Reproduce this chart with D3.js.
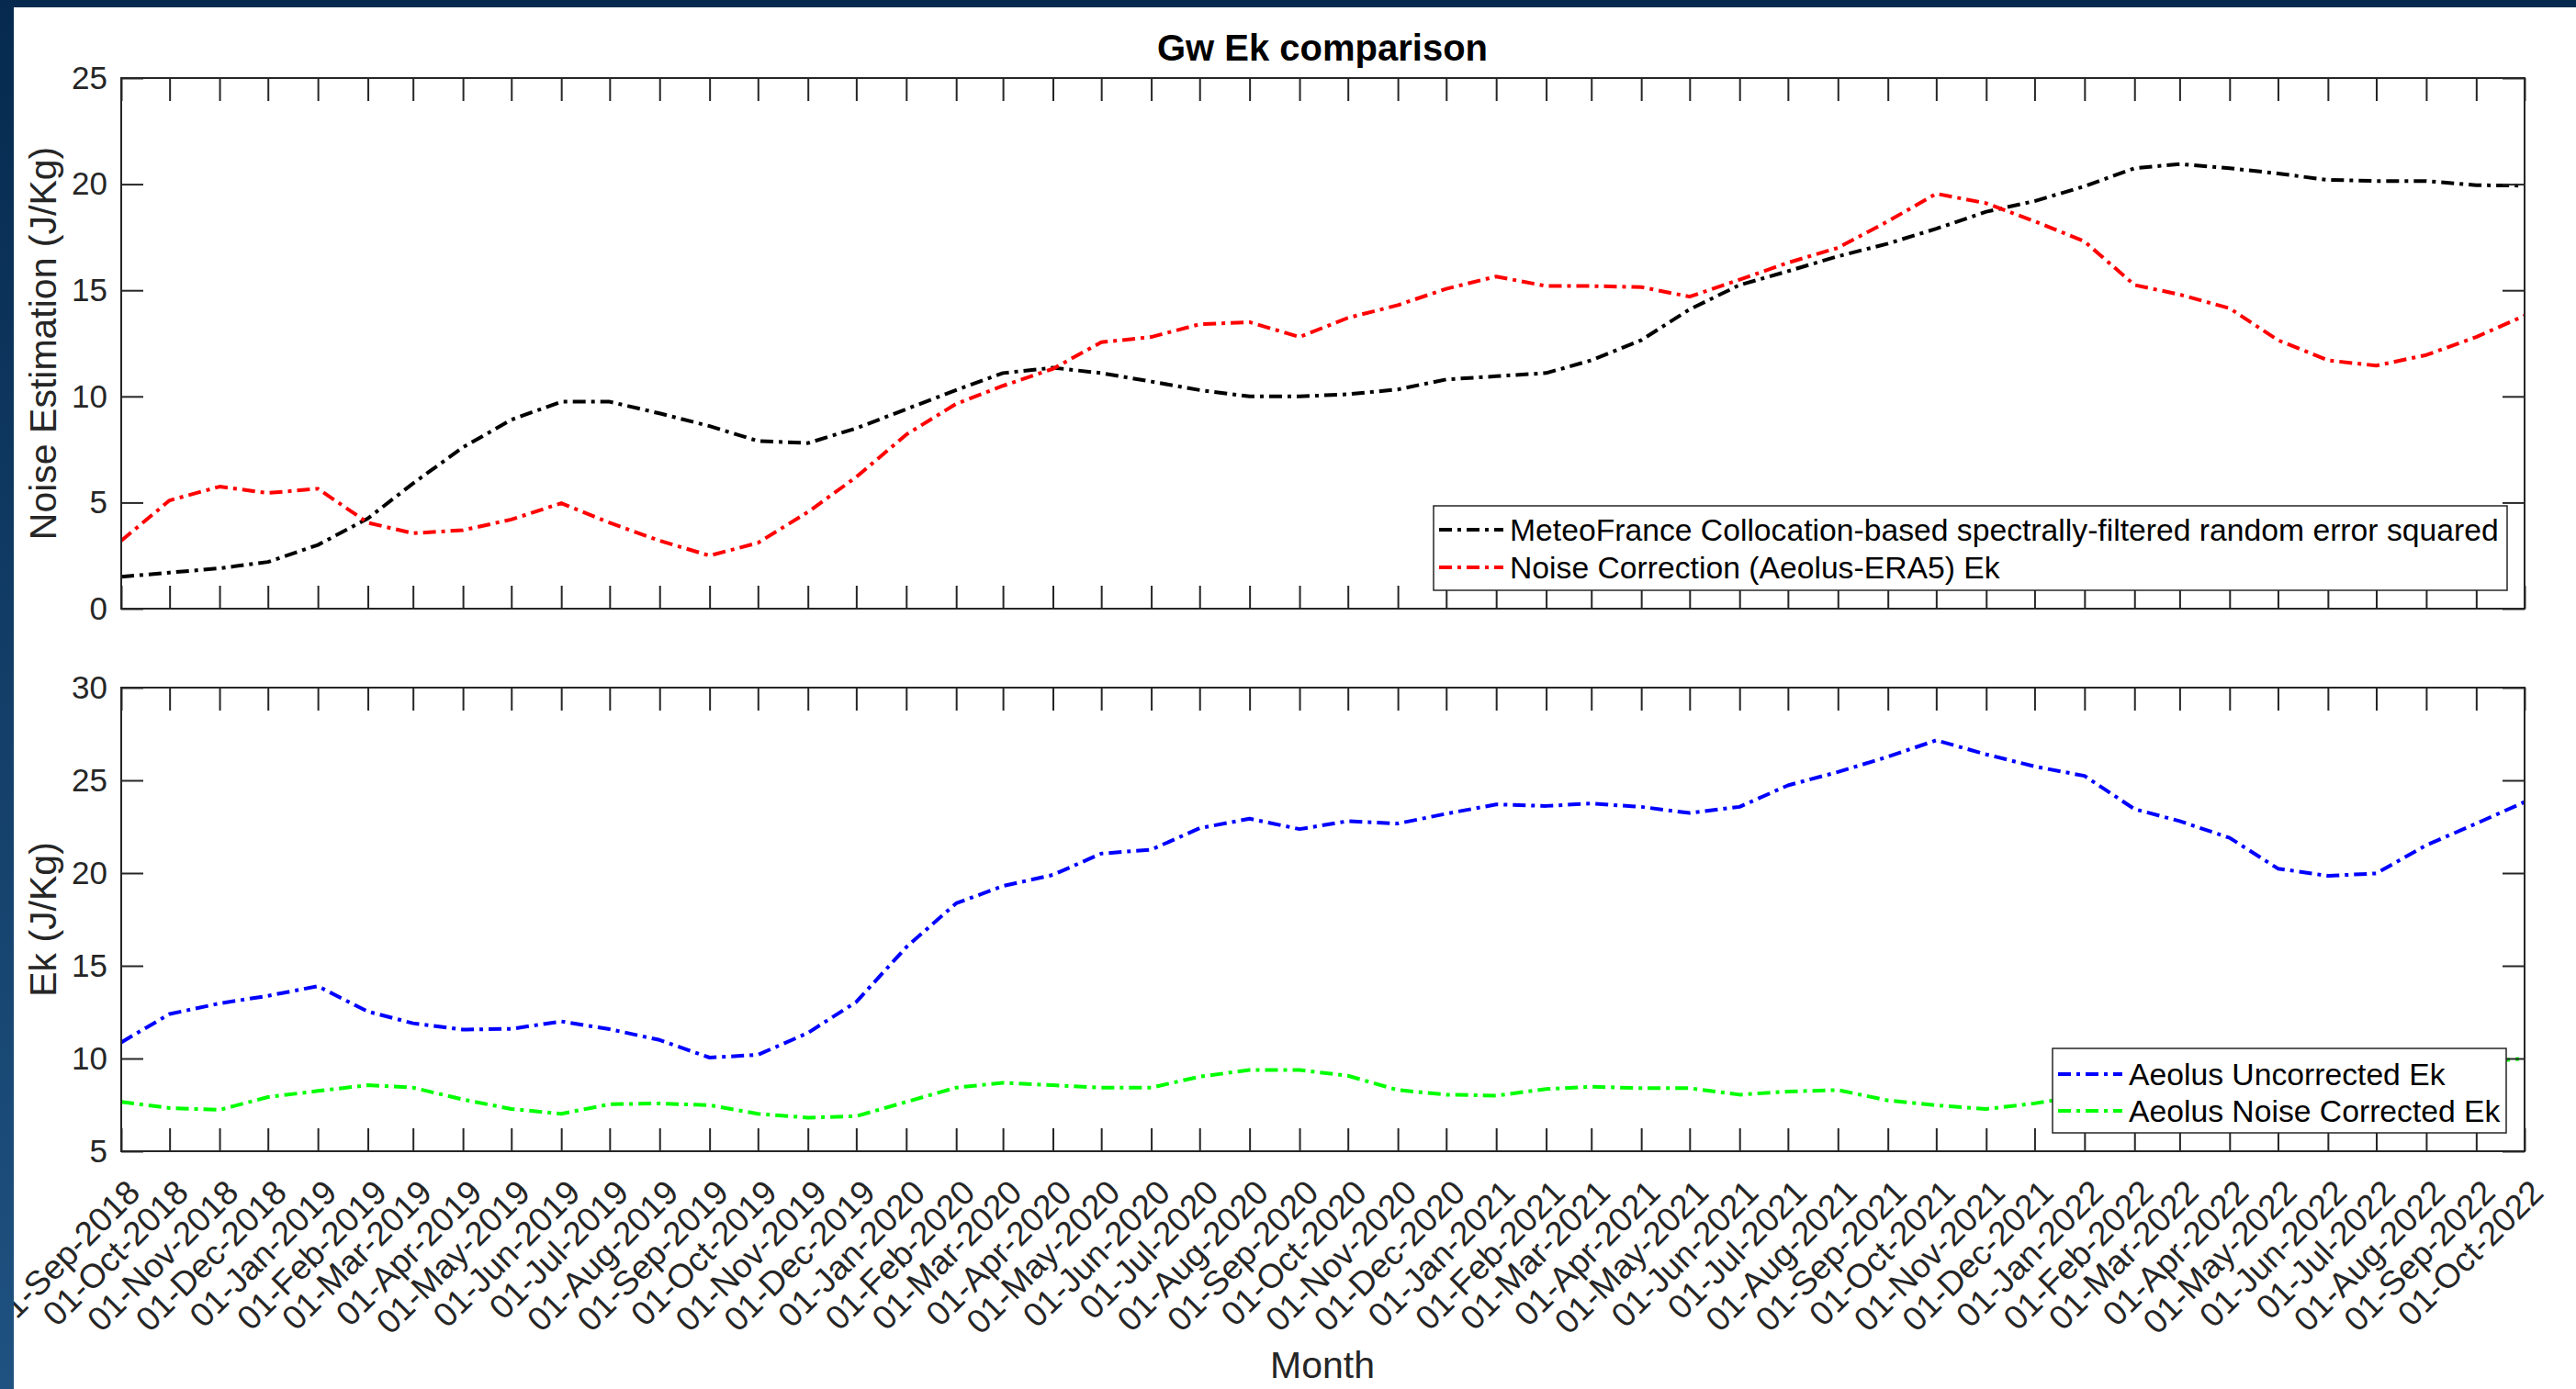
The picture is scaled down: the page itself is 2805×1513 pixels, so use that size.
<!DOCTYPE html>
<html><head><meta charset="utf-8">
<script src="https://cdn.jsdelivr.net/npm/d3@7"></script>
<style>
html,body{margin:0;padding:0;background:#fff;}
svg{display:block;}
text{font-family:"Liberation Sans",Arial,Helvetica,sans-serif;}
</style></head><body>
<svg id="chart" width="2805" height="1513"></svg>
<script>
const months = ["2018-09","2018-10","2018-11","2018-12","2019-01","2019-02","2019-03","2019-04","2019-05","2019-06",
"2019-07","2019-08","2019-09","2019-10","2019-11","2019-12","2020-01","2020-02","2020-03","2020-04",
"2020-05","2020-06","2020-07","2020-08","2020-09","2020-10","2020-11","2020-12","2021-01","2021-02",
"2021-03","2021-04","2021-05","2021-06","2021-07","2021-08","2021-09","2021-10","2021-11","2021-12",
"2022-01","2022-02","2022-03","2022-04","2022-05","2022-06","2022-07","2022-08","2022-09","2022-10"];
const meteoFrance = [1.5,1.7,1.9,2.2,3.0,4.25,5.9,7.6,8.9,9.75,9.75,9.2,8.6,7.9,7.8,8.5,9.4,10.3,11.1,11.35,11.1,10.7,10.3,10.0,10.0,10.1,10.33,10.8,10.95,11.1,11.7,12.65,14.1,15.25,15.9,16.6,17.2,17.9,18.7,19.2,19.9,20.75,20.95,20.75,20.5,20.2,20.15,20.15,19.95,19.93];
const noiseCorrection = [3.2,5.1,5.75,5.45,5.65,4.05,3.55,3.7,4.2,4.97,4.05,3.2,2.5,3.1,4.55,6.2,8.2,9.65,10.5,11.3,12.55,12.8,13.4,13.5,12.8,13.7,14.3,15.07,15.65,15.2,15.2,15.15,14.7,15.5,16.3,17.0,18.25,19.55,19.1,18.25,17.3,15.25,14.8,14.15,12.65,11.7,11.45,11.95,12.8,13.8];
const aeolusUncorrected = [10.87,12.4,12.97,13.38,13.9,12.53,11.9,11.56,11.6,12.0,11.58,11.0,10.05,10.2,11.38,13.05,16.0,18.37,19.3,19.9,21.05,21.26,22.42,22.93,22.37,22.8,22.67,23.2,23.7,23.62,23.75,23.57,23.24,23.57,24.73,25.45,26.27,27.16,26.4,25.75,25.24,23.45,22.8,21.9,20.24,19.85,19.98,21.5,22.67,23.83];
const aeolusCorrected = [7.66,7.33,7.23,7.92,8.25,8.56,8.43,7.79,7.28,7.02,7.53,7.58,7.48,7.02,6.81,6.89,7.66,8.43,8.69,8.56,8.43,8.43,9.02,9.38,9.38,9.07,8.3,8.05,8.0,8.35,8.48,8.4,8.4,8.05,8.22,8.3,7.74,7.48,7.28,7.58,8.0,8.4,8.6,8.8,8.9,9.0,9.2,9.5,9.8,10.0];
const topYTicks = [0,5,10,15,20,25];
const bottomYTicks = [5,10,15,20,25,30];
const topSeries = [
  {name:"MeteoFrance Collocation-based spectrally-filtered random error squared", values: meteoFrance, color:"#000000"},
  {name:"Noise Correction (Aeolus-ERA5) Ek", values: noiseCorrection, color:"#ff0000"}
];
const bottomSeries = [
  {name:"Aeolus Uncorrected Ek", values: aeolusUncorrected, color:"#0000ff"},
  {name:"Aeolus Noise Corrected Ek", values: aeolusCorrected, color:"#00ff00"}
];

const svg = d3.select("#chart");
const W = 2805, H = 1513;
const AX = "#262626";
const DASH = "14,6,4,6";
const LW = 4;
const parse = d3.timeParse("%Y-%m");
const dates = months.map(parse);

svg.append("rect").attr("x",0).attr("y",0).attr("width",W).attr("height",H).attr("fill","#fff");

const L = 132, R = 2749;
const x = d3.scaleTime().domain([dates[0], dates[dates.length-1]]).range([L, R]);

function panel(top, bottom, domain, yTicks, series, showXLabels, yLabel, legend) {
  const y = d3.scaleLinear().domain(domain).range([bottom, top]);
  const g = svg.append("g");

  const line = d3.line().x((d,i)=>x(dates[i])).y(d=>y(d));
  series.forEach(s => {
    g.append("path").datum(s.values).attr("d", line).attr("fill","none")
      .attr("stroke", s.color).attr("stroke-width",LW).attr("stroke-dasharray",DASH)
      .attr("stroke-linejoin","round");
  });

  const styleAxis = (ag, fs) => {
    ag.attr("font-size",fs).attr("font-family","'Liberation Sans',Arial,sans-serif").attr("color",AX);
    ag.selectAll("line").attr("stroke-width",2);
    ag.select(".domain").remove();
  };
  const xb = g.append("g").attr("transform",`translate(0,${bottom})`)
    .call(d3.axisBottom(x).tickValues(dates).tickSize(-25).tickSizeOuter(0)
      .tickFormat(showXLabels ? d3.timeFormat("%d-%b-%Y") : ""));
  styleAxis(xb, 37);
  if (showXLabels) {
    xb.selectAll("text").attr("x",0).attr("y",0).attr("dy","0.35em")
      .attr("text-anchor","end").attr("transform","translate(13,38) rotate(-45)").attr("fill",AX);
  }
  const xt = g.append("g").attr("transform",`translate(0,${top})`)
    .call(d3.axisTop(x).tickValues(dates).tickSize(-25).tickSizeOuter(0).tickFormat(""));
  styleAxis(xt, 35);
  const yl = g.append("g").attr("transform",`translate(${L},0)`)
    .call(d3.axisLeft(y).tickValues(yTicks).tickSize(-24).tickSizeOuter(0).tickPadding(15));
  styleAxis(yl, 35);
  yl.selectAll("text").attr("fill",AX);
  const yr = g.append("g").attr("transform",`translate(${R},0)`)
    .call(d3.axisRight(y).tickValues(yTicks).tickSize(-24).tickSizeOuter(0).tickFormat(""));
  styleAxis(yr, 35);

  g.append("rect").attr("x",L).attr("y",top).attr("width",R-L).attr("height",bottom-top)
    .attr("fill","none").attr("stroke",AX).attr("stroke-width",2);

  g.append("text").attr("transform",`translate(61,${(top+bottom)/2}) rotate(-90)`)
    .attr("text-anchor","middle").attr("font-size",41).attr("fill",AX).text(yLabel);

  const lg = g.append("g");
  lg.append("rect").attr("x",legend.x).attr("y",legend.y).attr("width",legend.w).attr("height",legend.h)
    .attr("fill","#fff").attr("stroke",AX).attr("stroke-width",1.5);
  series.forEach((s,i) => {
    const cy = legend.rows[i];
    lg.append("line").attr("x1",legend.x+6).attr("x2",legend.x+76).attr("y1",cy).attr("y2",cy)
      .attr("stroke",s.color).attr("stroke-width",LW).attr("stroke-dasharray",DASH);
    lg.append("text").attr("x",legend.x+83).attr("y",cy).attr("dy","0.35em")
      .attr("font-size",33.7).attr("fill","#000").text(s.name);
  });
  return y;
}

panel(85, 663, [0,25], topYTicks, topSeries, false, "Noise Estimation (J/Kg)",
  {x:1561, y:551, w:1169, h:92, rows:[577,618]});
panel(749, 1254, [5,30], bottomYTicks, bottomSeries, true, "Ek (J/Kg)",
  {x:2235, y:1142, w:494, h:92, rows:[1170,1210]});

svg.append("text").attr("x",1440).attr("y",66).attr("text-anchor","middle")
  .attr("font-size",40).attr("font-weight","bold").attr("fill","#000").text("Gw Ek comparison");
svg.append("text").attr("x",1440).attr("y",1501).attr("text-anchor","middle")
  .attr("font-size",41).attr("fill",AX).text("Month");

// slide frame (drawn on top, as in the reference)
const defs = svg.append("defs");
const grad = defs.append("linearGradient").attr("id","frameGrad").attr("x1",0).attr("y1",0).attr("x2",0).attr("y2",1);
grad.append("stop").attr("offset","0%").attr("stop-color","#062a4f");
grad.append("stop").attr("offset","100%").attr("stop-color","#1f5281");
svg.append("rect").attr("x",0).attr("y",0).attr("width",W).attr("height",8).attr("fill","#062a4f");
svg.append("rect").attr("x",0).attr("y",0).attr("width",15).attr("height",H).attr("fill","url(#frameGrad)");
</script>
</body></html>
